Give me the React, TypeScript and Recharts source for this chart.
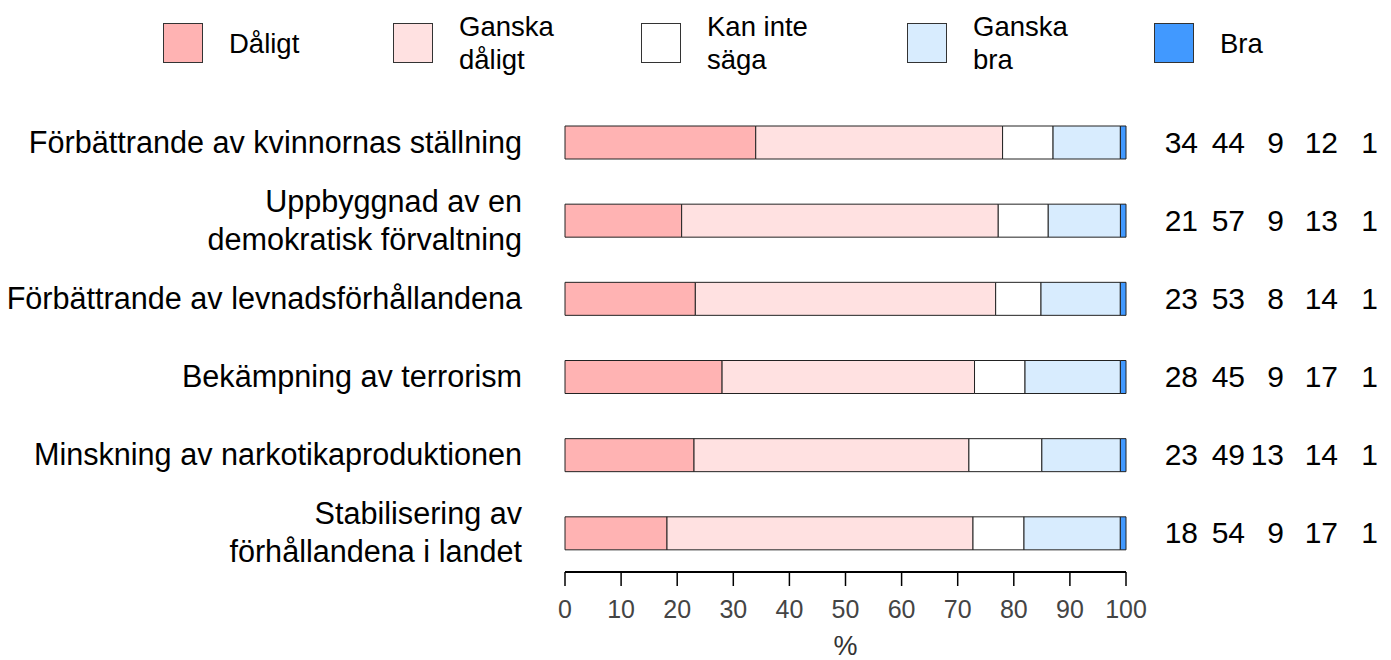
import React from 'react';
import { BarChart, Bar, XAxis, YAxis, Legend } from 'recharts';

const FONT = '"Liberation Sans", Arial, Helvetica, sans-serif';

// Survey items (row labels); "\n" marks a line break in the axis label
const categories = [
  'Förbättrande av kvinnornas ställning',
  'Uppbyggnad av en\ndemokratisk förvaltning',
  'Förbättrande av levnadsförhållandena',
  'Bekämpning av terrorism',
  'Minskning av narkotikaproduktionen',
  'Stabilisering av\nförhållandena i landet',
];

// Percent of answers per response option
const daligt = [34, 21, 23, 28, 23, 18];
const ganskaDaligt = [44, 57, 53, 45, 49, 54];
const kanInteSaga = [9, 9, 8, 9, 13, 9];
const ganskaBra = [12, 13, 14, 17, 14, 17];
const bra = [1, 1, 1, 1, 1, 1];

const seriesKeys = ['daligt', 'ganskaDaligt', 'kanInteSaga', 'ganskaBra', 'bra'];
const seriesNames = ['Dåligt', 'Ganska\ndåligt', 'Kan inte\nsäga', 'Ganska\nbra', 'Bra'];
const seriesColors = ['#FFB3B3', '#FFE1E1', '#FFFFFF', '#D8ECFE', '#4199FF'];
const seriesValues = [daligt, ganskaDaligt, kanInteSaga, ganskaBra, bra];

const percentTicks = [0, 10, 20, 30, 40, 50, 60, 70, 80, 90, 100];

const data = categories.map((name, i) => {
  const row: Record<string, string | number> = { name };
  seriesKeys.forEach((k, s) => {
    row[k] = seriesValues[s][i];
  });
  return row;
});

// Layout constants for the legend and the value columns
const legendBoxX = [163, 393, 641, 907, 1154];
const valueColumnEnds = [72, 119, 158, 212, 252];
const LABEL_SIZE = 30.6;

function LegendContent() {
  return (
    <div style={{ position: 'relative', width: 1391, height: 103, fontFamily: FONT }}>
      {seriesNames.map((n, i) => (
        <div
          key={n}
          style={{
            position: 'absolute',
            left: legendBoxX[i],
            top: 23,
            height: 40,
            display: 'flex',
            alignItems: 'center',
          }}
        >
          <div
            style={{
              width: 38,
              height: 38,
              background: seriesColors[i],
              border: '1px solid #333',
              flex: 'none',
            }}
          />
          <div
            style={{
              marginLeft: 26,
              fontSize: 27.5,
              lineHeight: '33px',
              whiteSpace: 'pre',
              color: '#000',
            }}
          >
            {n}
          </div>
        </div>
      ))}
    </div>
  );
}

const LeftTick = (props: any) => {
  const { x, y, payload } = props;
  const lines = String(payload.value).split('\n');
  const lh = 38;
  const y0 = y - ((lines.length - 1) * lh) / 2 + 10.5;
  return (
    <text x={x} y={y0} textAnchor="end" fontSize={LABEL_SIZE} fill="#000" fontFamily={FONT}>
      {lines.map((l, i) => (
        <tspan key={i} x={x} y={y0 + i * lh}>
          {l}
        </tspan>
      ))}
    </text>
  );
};

const RightTick = (props: any) => {
  const { x, y, payload } = props;
  const i = categories.indexOf(payload.value);
  if (i < 0) return null;
  return (
    <g>
      {seriesValues.map((arr, k) => (
        <text
          key={k}
          x={x + valueColumnEnds[k]}
          y={y + 10.5}
          textAnchor="end"
          fontSize={30}
          fill="#000"
          fontFamily={FONT}
        >
          {arr[i]}
        </text>
      ))}
    </g>
  );
};

export default function App() {
  return (
    <div style={{ position: 'absolute', left: 0, top: 0, width: 1391, height: 660, background: '#fff' }}>
      <BarChart
        width={1391}
        height={660}
        data={data}
        layout="vertical"
        stackOffset="expand"
        margin={{ top: 0, right: 0, bottom: 0, left: 0 }}
        style={{ fontFamily: FONT }}
      >
        <Legend verticalAlign="top" content={<LegendContent />} wrapperStyle={{ left: 0, top: 0, width: 1391 }} />
        <XAxis
          type="number"
          domain={[0, 1]}
          ticks={percentTicks.map((t) => t / 100)}
          tickFormatter={(v: number) => String(Math.round(v * 100))}
          height={88}
          axisLine={{ stroke: '#000', strokeWidth: 2 }}
          tickLine={{ stroke: '#000', strokeWidth: 1.5 }}
          tickSize={14}
          tickMargin={14}
          tick={{ fontSize: 25, fill: '#444', fontFamily: FONT }}
          label={{ value: '%', position: 'insideBottom', offset: 5, fontSize: 27, fill: '#333', fontFamily: FONT }}
        />
        <YAxis
          type="category"
          dataKey="name"
          width={565}
          axisLine={false}
          tickLine={false}
          tickSize={0}
          tickMargin={43}
          tick={<LeftTick />}
          interval={0}
        />
        <YAxis
          yAxisId="r"
          orientation="right"
          type="category"
          dataKey="name"
          width={265}
          axisLine={false}
          tickLine={false}
          tickSize={0}
          tickMargin={0}
          tick={<RightTick />}
          interval={0}
        />
        {seriesKeys.map((k, s) => (
          <Bar
            key={k}
            dataKey={k}
            name={seriesNames[s]}
            stackId="a"
            fill={seriesColors[s]}
            stroke="#222"
            strokeWidth={1}
            barSize={33}
            isAnimationActive={false}
          />
        ))}
      </BarChart>
    </div>
  );
}
